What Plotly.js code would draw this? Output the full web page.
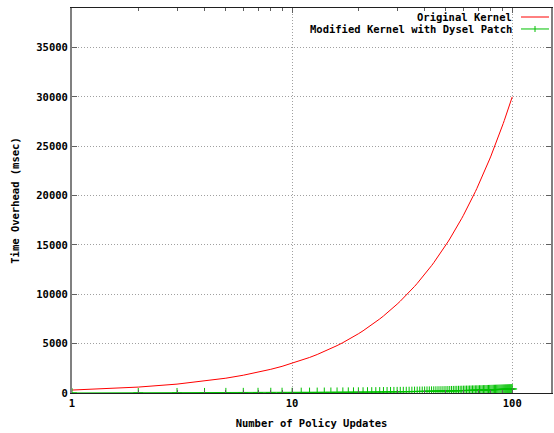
<!DOCTYPE html>
<html>
<head>
<meta charset="utf-8">
<script src="https://cdn.plot.ly/plotly-3.0.1.min.js"></script>
<style>html,body{margin:0;padding:0;background:#fff;}#chart{width:554px;height:433px;}</style>
</head>
<body>
<div id="chart"></div>
<script>
// Number of policy updates (x)
const updates = [1,2,3,4,5,6,7,8,9,10,11,12,13,14,15,16,17,18,19,20,21,22,23,24,25,26,27,28,29,30,31,32,33,34,35,36,37,38,39,40,41,42,43,44,45,46,47,48,49,50,51,52,53,54,55,56,57,58,59,60,61,62,63,64,65,66,67,68,69,70,71,72,73,74,75,76,77,78,79,80,81,82,83,84,85,86,87,88,89,90,91,92,93,94,95,96,97,98,99,100];
// Original Kernel time overhead (msec)
const originalKernel = [300,600,900,1200,1500,1800,2100,2400,2700,3000,3300,3600,3900,4200,4500,4800,5100,5400,5700,6000,6300,6600,6900,7200,7500,7800,8100,8400,8700,9000,9300,9600,9900,10200,10500,10800,11100,11400,11700,12000,12300,12600,12900,13200,13500,13800,14100,14400,14700,15000,15300,15600,15900,16200,16500,16800,17100,17400,17700,18000,18300,18600,18900,19200,19500,19800,20100,20400,20700,21000,21300,21600,21900,22200,22500,22800,23100,23400,23700,24000,24300,24600,24900,25200,25500,25800,26100,26400,26700,27000,27300,27600,27900,28200,28500,28800,29100,29400,29700,30000];
// Modified Kernel with Dysel Patch time overhead (msec)
const modifiedKernel = [4,8,12,16,21,25,29,33,37,41,45,49,53,57,62,66,70,74,78,82,86,90,94,98,103,107,111,115,119,123,127,131,135,139,144,148,152,156,160,164,168,172,176,180,185,189,193,197,201,205,209,213,217,221,226,230,234,238,242,246,250,254,258,262,267,271,275,279,283,287,291,295,299,303,308,312,316,320,324,328,332,336,340,344,349,353,357,361,365,369,373,377,381,385,390,394,398,402,406,410];

const seriesNames = ["Original Kernel", "Modified Kernel with Dysel Patch"];
const xTickVals = [1, 10, 100];
const xTickText = ["1", "10", "100"];
const xMinorVals = [2,3,4,5,6,7,8,9,20,30,40,50,60,70,80,90];
const yTickVals = [0,5000,10000,15000,20000,25000,30000,35000];
const yTickText = ["0","5000","10000","15000","20000","25000","30000","35000"];

const FONT = {family: "DejaVu Sans Mono, monospace", size: 10.5, color: "#000", weight: "bold"};
const RED = "#ff0000", GREEN = "#00c000";

const traces = [
  {x: updates, y: originalKernel, name: seriesNames[0], type: "scatter", mode: "lines",
   line: {color: RED, width: 1}, showlegend: false},
  {x: updates, y: modifiedKernel, name: seriesNames[1], type: "scatter", mode: "lines+markers",
   line: {color: GREEN, width: 1},
   marker: {symbol: "cross-thin", size: 7, line: {color: GREEN, width: 1}, color: GREEN},
   showlegend: false}
];

const layout = {
  width: 554, height: 433,
  margin: {l: 72, r: 3, t: 8, b: 40, pad: 0},
  paper_bgcolor: "#fff", plot_bgcolor: "#fff",
  font: FONT,
  showlegend: false,
  xaxis: {
    type: "log", range: [0, Math.log10(150)],
    tickmode: "array", tickvals: xTickVals, ticktext: xTickText,
    ticks: "inside", ticklen: 5, tickcolor: "#606060",
    showline: true, linecolor: "#202020", linewidth: 1, mirror: "ticks",
    showgrid: true, gridcolor: "#a0a0a0", griddash: "1px,2px", gridwidth: 1,
    zeroline: false,
    minor: {tickmode: "array", tickvals: xMinorVals, ticks: "inside", ticklen: 3, tickcolor: "#606060", showgrid: false},
    tickfont: FONT,
    title: {text: "Number of Policy Updates", font: FONT, standoff: 12},
    automargin: false
  },
  yaxis: {
    range: [0, 39000],
    tickmode: "array", tickvals: yTickVals, ticktext: yTickText,
    ticks: "inside", ticklen: 5, tickcolor: "#606060",
    showline: true, linecolor: "#808080", linewidth: 2, mirror: "ticks",
    showgrid: true, gridcolor: "#a0a0a0", griddash: "1px,2px", gridwidth: 1,
    zeroline: false,
    tickfont: FONT,
    title: {text: "Time Overhead (msec)", font: FONT, standoff: 15},
    automargin: false
  },
  annotations: [
    {xref: "paper", yref: "paper", x: 0.9227, y: 0.9766, xanchor: "right", yanchor: "middle",
     text: seriesNames[0], showarrow: false, font: FONT},
    {xref: "paper", yref: "paper", x: 0.9227, y: 0.9455, xanchor: "right", yanchor: "middle",
     text: seriesNames[1], showarrow: false, font: FONT}
  ],
  shapes: [
    {type: "line", xref: "paper", yref: "paper", x0: 0.9374, x1: 0.9958, y0: 0.9766, y1: 0.9766,
     line: {color: RED, width: 1}},
    {type: "line", xref: "paper", yref: "paper", x0: 0.9374, x1: 0.9958, y0: 0.9455, y1: 0.9455,
     line: {color: GREEN, width: 1}},
    {type: "line", xref: "paper", yref: "paper", x0: 0.9666, x1: 0.9666, y0: 0.9377, y1: 0.9533,
     line: {color: GREEN, width: 1}}
  ]
};

Plotly.newPlot("chart", traces, layout, {displayModeBar: false, staticPlot: true});
</script>
</body>
</html>
